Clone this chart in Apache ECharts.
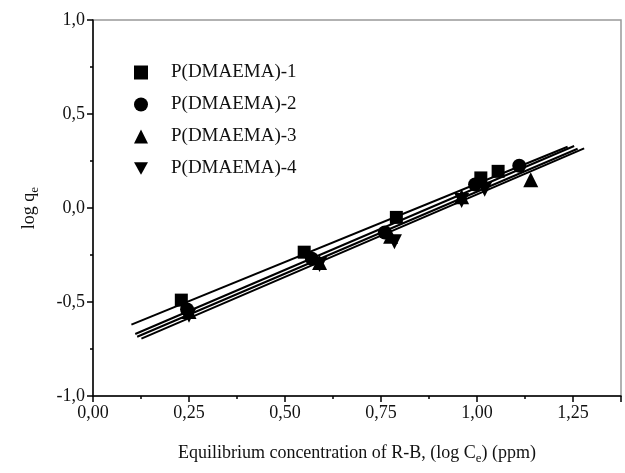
<!DOCTYPE html>
<html>
<head>
<meta charset="utf-8">
<script src="https://cdn.jsdelivr.net/npm/echarts@6/dist/echarts.min.js"></script>
<style>html,body{margin:0;padding:0;background:#fff}#c{width:625px;height:473px}</style>
</head>
<body>
<div id="c"></div>
<script>
const seriesNames = ['P(DMAEMA)-1','P(DMAEMA)-2','P(DMAEMA)-3','P(DMAEMA)-4'];
const symbols = ['rect','circle','triangle','path://M0,0 L10,0 L5,9 Z'];
const p1 = [[0.23,-0.49],[0.55,-0.235],[0.79,-0.05],[1.01,0.16],[1.055,0.195]];
const p2 = [[0.245,-0.54],[0.57,-0.27],[0.76,-0.13],[0.995,0.125],[1.11,0.225]];
const p3 = [[0.25,-0.55],[0.59,-0.29],[0.775,-0.15],[0.96,0.06],[1.14,0.15]];
const p4 = [[0.25,-0.57],[0.59,-0.30],[0.785,-0.18],[0.96,0.04],[1.02,0.10]];
const points = [p1,p2,p3,p4];
const fit1 = [[0.10,-0.62],[1.236,0.326]];
const fit2 = [[0.11,-0.67],[1.253,0.33]];
const fit3 = [[0.115,-0.685],[1.262,0.315]];
const fit4 = [[0.126,-0.695],[1.279,0.317]];
const fits = [fit1,fit2,fit3,fit4];
const xTicks = {min:0, max:1.375, interval:0.25};
const yTicks = {min:-1, max:1, interval:0.5};

const serif = 'Liberation Serif';
const series = [];
fits.forEach((f,i)=>series.push({
  name:'fit'+(i+1), type:'line', data:f, symbol:'none',
  lineStyle:{color:'#000', width:2}, silent:true, z:2
}));
points.forEach((p,i)=>series.push({
  name:seriesNames[i], type:'scatter', data:p, symbol:symbols[i],
  symbolSize: i===0?13:(i===1?14:15),
  itemStyle:{color:'#000', opacity:1}, z:3
}));

const chart = echarts.init(document.getElementById('c'));
chart.setOption({
  animation:false,
  grid:{left:93, right:4, top:20, bottom:77, show:true, borderColor:'#999', borderWidth:1.5},
  legend:{
    data:seriesNames.map((n,i)=>({name:n, icon:symbols[i]})),
    orient:'vertical', left:129, top:58, itemGap:13, itemWidth:14, itemHeight:14,
    textStyle:{fontFamily:serif, fontSize:19, color:'#111', padding:[0,0,0,18]},
    itemStyle:{color:'#000', opacity:1}
  },
  xAxis:{
    type:'value', min:xTicks.min, max:xTicks.max, interval:xTicks.interval,
    splitLine:{show:false},
    axisLine:{onZero:false, lineStyle:{color:'#000', width:1.5}},
    axisTick:{length:6, lineStyle:{color:'#000', width:1.5}},
    minorTick:{show:true, splitNumber:2, length:3, lineStyle:{color:'#000', width:1.5}},
    axisLabel:{fontFamily:serif, fontSize:18, color:'#111', margin:8,
      showMaxLabel:false,
      formatter:v=>v.toFixed(2).replace('.',',')},
    name:'{t|Equilibrium concentration of R-B, (log C}{s|e}{t|) (ppm)}',
    nameLocation:'middle', nameGap:46,
    nameTextStyle:{rich:{t:{fontFamily:serif, fontSize:18, color:'#111'}, s:{fontFamily:serif, fontSize:13, color:'#111', padding:[10,0,0,0]}}}
  },
  yAxis:{
    type:'value', min:yTicks.min, max:yTicks.max, interval:yTicks.interval,
    splitLine:{show:false},
    axisLine:{onZero:false, lineStyle:{color:'#000', width:1.5}},
    axisTick:{length:6, lineStyle:{color:'#000', width:1.5}},
    minorTick:{show:true, splitNumber:2, length:3, lineStyle:{color:'#000', width:1.5}},
    axisLabel:{fontFamily:serif, fontSize:18, color:'#111', margin:8,
      formatter:v=>v.toFixed(1).replace('.',',')},
    name:'{t|log q}{s|e}',
    nameLocation:'middle', nameGap:52,
    nameTextStyle:{rich:{t:{fontFamily:serif, fontSize:18, color:'#111'}, s:{fontFamily:serif, fontSize:13, color:'#111', padding:[10,0,0,0]}}}
  },
  series:series
});
</script>
</body>
</html>
